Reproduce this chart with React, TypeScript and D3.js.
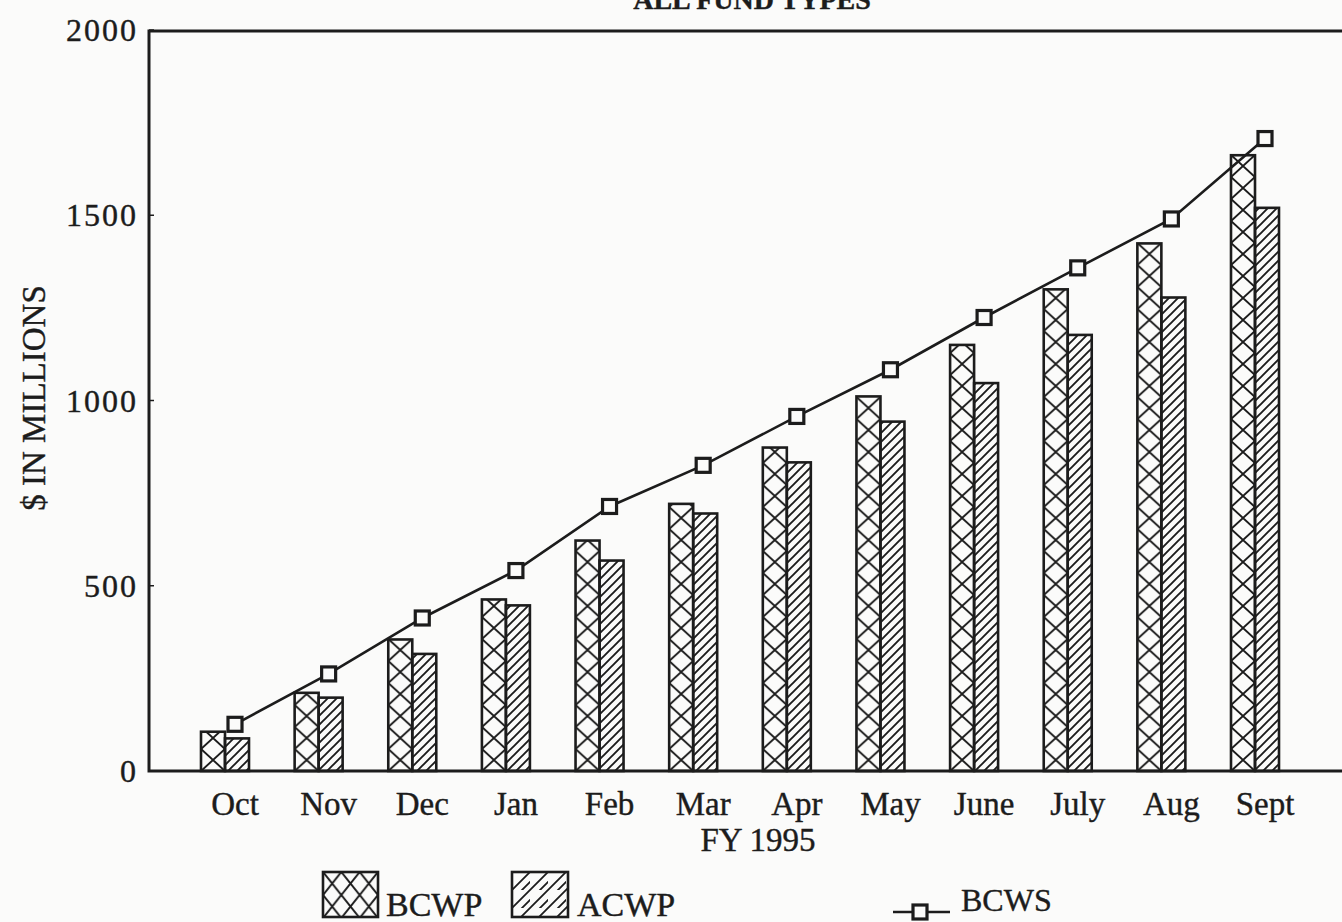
import * as d3 from 'd3';
import React, { useRef, useEffect } from 'react';

const months = ['Oct', 'Nov', 'Dec', 'Jan', 'Feb', 'Mar', 'Apr', 'May', 'June', 'July', 'Aug', 'Sept'];
const bcwp = [106, 211, 355, 463, 622, 721, 873, 1011, 1150, 1300, 1424, 1662];
const acwp = [88, 198, 316, 447, 568, 695, 833, 943, 1047, 1177, 1278, 1520];
const bcws = [126, 262, 413, 541, 714, 825, 957, 1083, 1224, 1358, 1490, 1707];
const yTicks = [0, 500, 1000, 1500, 2000];
const seriesNames = ['BCWP', 'ACWP'];

const INK = '#1c1c1c';
const FONT = '"Liberation Serif", "DejaVu Serif", serif';

const App: React.FC = () => {
  const ref = useRef<HTMLDivElement>(null);

  useEffect(() => {
    if (!ref.current) return;
    ref.current.innerHTML = '';

    const width = 1342;
    const height = 922;
    const left = 149;
    const top = 31;
    const bottom = 771;

    const x = d3.scalePoint<string>().domain(months).range([235, 1265]);
    const inner = d3.scaleBand<string>().domain(seriesNames).range([-34, 14]);
    const y = d3.scaleLinear().domain([0, 2000]).range([bottom, 30]);

    const svg = d3.select(ref.current)
      .append('svg')
      .attr('width', width)
      .attr('height', height)
      .style('position', 'absolute')
      .style('left', '0px')
      .style('top', '0px')
      .style('font-family', FONT);

    svg.append('rect').attr('width', width).attr('height', height).attr('fill', '#fbfbfa');

    const defs = svg.append('defs');
    const bw = inner.bandwidth();

    // crosshatch patterns, one per bar so the X sits centred in it
    months.forEach((m, i) => {
      const p = defs.append('pattern')
        .attr('id', `xh-${i}`)
        .attr('patternUnits', 'userSpaceOnUse')
        .attr('x', (x(m) ?? 0) + (inner('BCWP') ?? 0))
        .attr('y', bottom)
        .attr('width', bw)
        .attr('height', 22);
      p.append('path')
        .attr('d', `M0,0L${bw},22M${bw},0L0,22`)
        .attr('stroke', INK).attr('stroke-width', 2).attr('fill', 'none');
    });

    const diag = defs.append('pattern')
      .attr('id', 'diag')
      .attr('patternUnits', 'userSpaceOnUse')
      .attr('width', 9).attr('height', 9);
    diag.append('path')
      .attr('d', 'M-2,2L2,-2M0,9L9,0M7,11L11,7')
      .attr('stroke', INK).attr('stroke-width', 1.9).attr('fill', 'none');

    const legX = defs.append('pattern')
      .attr('id', 'leg-xh')
      .attr('patternUnits', 'userSpaceOnUse')
      .attr('x', 323).attr('y', 872)
      .attr('width', 55 / 3).attr('height', 23);
    legX.append('path')
      .attr('d', `M0,0L${55 / 3},23M${55 / 3},0L0,23`)
      .attr('stroke', INK).attr('stroke-width', 2).attr('fill', 'none');

    const legD = defs.append('pattern')
      .attr('id', 'leg-diag')
      .attr('patternUnits', 'userSpaceOnUse')
      .attr('x', 512).attr('y', 872)
      .attr('width', 18).attr('height', 18);
    legD.append('path')
      .attr('d', 'M-3,3L3,-3M0,18L18,0M5,23L23,5M15,21L21,15')
      .attr('stroke', INK).attr('stroke-width', 1.8).attr('fill', 'none');

    const txt = (sel: d3.Selection<SVGTextElement, unknown, null, undefined>) =>
      sel.attr('fill', INK).attr('stroke', INK).attr('stroke-width', 0.4);

    // title, cut by the top of the page as in the scan
    svg.append('text')
      .attr('x', 752).attr('y', 9)
      .attr('text-anchor', 'middle')
      .attr('font-size', 28).attr('font-weight', 'bold')
      .call(txt)
      .text('ALL FUND TYPES');

    // bars
    const g = svg.append('g');
    g.selectAll('.bcwp')
      .data(bcwp)
      .enter()
      .append('rect')
      .attr('x', (d, i) => (x(months[i]) ?? 0) + (inner('BCWP') ?? 0))
      .attr('y', d => y(d))
      .attr('width', bw)
      .attr('height', d => y(0) - y(d))
      .attr('fill', (d, i) => `url(#xh-${i})`)
      .attr('stroke', INK).attr('stroke-width', 2.6);

    g.selectAll('.acwp')
      .data(acwp)
      .enter()
      .append('rect')
      .attr('x', (d, i) => (x(months[i]) ?? 0) + (inner('ACWP') ?? 0))
      .attr('y', d => y(d))
      .attr('width', bw)
      .attr('height', d => y(0) - y(d))
      .attr('fill', 'url(#diag)')
      .attr('stroke', INK).attr('stroke-width', 2.6);

    // frame
    svg.append('path')
      .attr('d', `M${width},${top}H${left}V${bottom}H${width}`)
      .attr('fill', 'none').attr('stroke', INK).attr('stroke-width', 3);

    // y axis ticks and labels
    yTicks.forEach(t => {
      svg.append('line')
        .attr('x1', left).attr('x2', left + 5)
        .attr('y1', y(t)).attr('y2', y(t))
        .attr('stroke', INK).attr('stroke-width', 1.5);
      svg.append('text')
        .attr('x', 138).attr('y', y(t))
        .attr('dy', '0.35em')
        .attr('text-anchor', 'end')
        .attr('font-size', 32)
        .attr('letter-spacing', 2)
        .call(txt)
        .text(t);
    });

    svg.append('text')
      .attr('transform', 'translate(45,398) rotate(-90)')
      .attr('text-anchor', 'middle')
      .attr('font-size', 33)
      .call(txt)
      .text('$ IN MILLIONS');

    // month labels
    months.forEach(m => {
      svg.append('text')
        .attr('x', x(m) ?? 0).attr('y', 815)
        .attr('text-anchor', 'middle')
        .attr('font-size', 33)
        .call(txt)
        .text(m);
    });

    svg.append('text')
      .attr('x', 758).attr('y', 851)
      .attr('text-anchor', 'middle')
      .attr('font-size', 33)
      .call(txt)
      .text('FY 1995');

    // BCWS line
    const line = d3.line<number>()
      .x((d, i) => x(months[i]) ?? 0)
      .y(d => y(d));

    svg.append('path')
      .datum(bcws)
      .attr('d', line)
      .attr('fill', 'none')
      .attr('stroke', INK).attr('stroke-width', 2.6);

    svg.selectAll('.mk')
      .data(bcws)
      .enter()
      .append('rect')
      .attr('x', (d, i) => (x(months[i]) ?? 0) - 7)
      .attr('y', d => y(d) - 7)
      .attr('width', 14).attr('height', 14)
      .attr('fill', '#fbfbfa')
      .attr('stroke', INK).attr('stroke-width', 3.2);

    // legend
    svg.append('rect')
      .attr('x', 323).attr('y', 872).attr('width', 55).attr('height', 45)
      .attr('fill', 'url(#leg-xh)').attr('stroke', INK).attr('stroke-width', 2.6);
    svg.append('text')
      .attr('x', 386).attr('y', 916)
      .attr('font-size', 34)
      .call(txt)
      .text('BCWP');

    svg.append('rect')
      .attr('x', 512).attr('y', 872).attr('width', 56).attr('height', 45)
      .attr('fill', 'url(#leg-diag)').attr('stroke', INK).attr('stroke-width', 2.6);
    svg.append('text')
      .attr('x', 577).attr('y', 916)
      .attr('font-size', 34)
      .call(txt)
      .text('ACWP');

    svg.append('line')
      .attr('x1', 893).attr('x2', 950).attr('y1', 912).attr('y2', 912)
      .attr('stroke', INK).attr('stroke-width', 2.6);
    svg.append('rect')
      .attr('x', 913).attr('y', 905).attr('width', 14).attr('height', 14)
      .attr('fill', '#fbfbfa').attr('stroke', INK).attr('stroke-width', 3.2);
    svg.append('text')
      .attr('x', 961).attr('y', 911)
      .attr('font-size', 32)
      .call(txt)
      .text('BCWS');
  }, []);

  return <div ref={ref} />;
};

export default App;
